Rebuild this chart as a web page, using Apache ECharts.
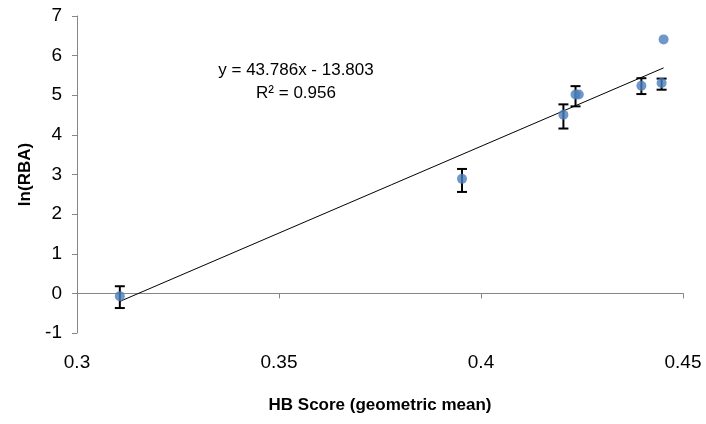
<!DOCTYPE html>
<html>
<head>
<meta charset="utf-8">
<script src="https://cdn.jsdelivr.net/npm/echarts@6/dist/echarts.min.js"></script>
<style>
  html, body { margin: 0; padding: 0; background: #fff; }
  #chart { width: 706px; height: 424px; }
</style>
</head>
<body>
<div id="chart"></div>
<script>
// data
const hbScore = [0.3106, 0.3953, 0.4204, 0.4234, 0.4242, 0.4397, 0.4447, 0.4452];
const lnRBA = [-0.07, 2.89, 4.51, 5.02, 5.02, 5.24, 5.31, 6.41];
const errLow = [-0.37, 2.56, 4.16, 4.72, null, 5.03, 5.14, null];
const errHigh = [0.18, 3.14, 4.77, 5.23, null, 5.43, 5.42, null];

// linear trendline, as printed on the chart
const slope = 43.786;
const intercept = -13.803;
const rSquared = 0.956;

const xTicks = { min: 0.3, max: 0.45, step: 0.05 };
const yTicks = { min: -1, max: 7, step: 1 };

const font = 'Liberation Sans, Arial, sans-serif';
const axisColor = '#868686';

const points = hbScore.map((x, i) => [x, lnRBA[i]]);
const bars = [];
hbScore.forEach((x, i) => {
  if (errLow[i] != null) bars.push([x, errLow[i], errHigh[i]]);
});
const xFirst = Math.min(...hbScore);
const xLast = Math.max(...hbScore);
const trend = [
  [xFirst, slope * xFirst + intercept],
  [xLast, slope * xLast + intercept]
];

const chart = echarts.init(document.getElementById('chart'));
chart.setOption({
  animation: false,
  grid: { left: 77, right: 23, top: 16, bottom: 91 },
  xAxis: {
    type: 'value',
    min: xTicks.min, max: xTicks.max, interval: xTicks.step,
    name: 'HB Score (geometric mean)',
    nameLocation: 'middle',
    nameGap: 64,
    nameTextStyle: { fontFamily: font, fontSize: 17, fontWeight: 'bold', color: '#000' },
    axisLine: { lineStyle: { color: axisColor, width: 1 } },
    axisTick: { inside: false, length: 5, lineStyle: { color: axisColor } },
    axisLabel: { fontFamily: font, fontSize: 19, color: '#000', margin: 20 },
    splitLine: { show: false }
  },
  yAxis: {
    type: 'value',
    min: yTicks.min, max: yTicks.max, interval: yTicks.step,
    name: 'ln(RBA)',
    nameLocation: 'middle',
    nameGap: 42,
    nameTextStyle: { fontFamily: font, fontSize: 17, fontWeight: 'bold', color: '#000' },
    axisLine: { show: true, lineStyle: { color: axisColor, width: 1 } },
    axisTick: { show: true, inside: false, length: 5, lineStyle: { color: axisColor } },
    axisLabel: { fontFamily: font, fontSize: 19, color: '#000', margin: 15 },
    splitLine: { show: false }
  },
  graphic: [{
    type: 'text',
    x: 296, y: 59,
    style: {
      text: 'y = 43.786x - 13.803\nR² = ' + rSquared,
      font: '17px ' + font,
      fill: '#000',
      textAlign: 'center',
      lineHeight: 23
    }
  }],
  series: [
    {
      type: 'line',
      data: trend,
      symbol: 'none',
      lineStyle: { color: '#000', width: 1 },
      z: 1
    },
    {
      type: 'custom',
      data: bars,
      z: 2,
      renderItem: (params, api) => {
        const x = api.value(0);
        const lo = api.coord([x, api.value(1)]);
        const hi = api.coord([x, api.value(2)]);
        const cap = 5;
        const style = { stroke: '#000', lineWidth: 2 };
        return {
          type: 'group',
          children: [
            { type: 'line', shape: { x1: lo[0], y1: lo[1], x2: hi[0], y2: hi[1] }, style },
            { type: 'line', shape: { x1: lo[0] - cap, y1: lo[1], x2: lo[0] + cap, y2: lo[1] }, style },
            { type: 'line', shape: { x1: hi[0] - cap, y1: hi[1], x2: hi[0] + cap, y2: hi[1] }, style }
          ]
        };
      }
    },
    {
      type: 'scatter',
      data: points,
      symbol: 'circle',
      symbolSize: 10,
      itemStyle: { color: '#4a7ebb' },
      z: 3
    }
  ]
});
</script>
</body>
</html>
